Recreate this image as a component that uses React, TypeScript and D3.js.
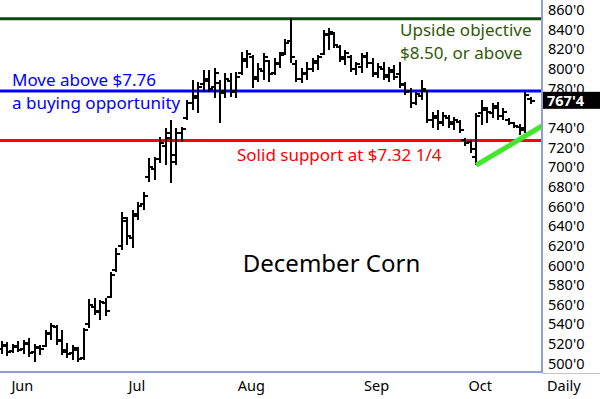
import * as d3 from 'd3';

// daily OHLC, late May .. mid Oct (cents/bu)
const opens = [
  515, 518, 513, 517, 515, 520, 512, 516, 518, 530,
  537, 524, 514, 511, 514, 506, 540, 558, 553, 562,
  568, 595, 620, 645, 628, 650, 662, 690, 698, 708,
  722, 730, 712, 735, 750, 765, 772, 785, 788, 782,
  786, 778, 788, 776, 796, 808, 812, 792, 798, 808,
  796, 806, 816, 828, 805, 790, 795, 800, 806, 815,
  835, 836, 822, 812, 812, 800, 802, 812, 806, 796,
  800, 794, 797, 795, 785, 778, 765, 772, 778, 748,
  750, 746, 750, 746, 746, 728, 726, 710, 755, 758,
  755, 760, 752, 748, 745, 741, 740, 769,
];
const highs = [
  523, 522, 520, 523, 524, 526, 520, 519, 534, 541,
  539, 534, 521, 519, 517, 536, 566, 567, 565, 567,
  593, 618, 654, 649, 656, 664, 675, 709, 710, 731,
  740, 748, 740, 741, 768, 789, 787, 799, 799, 801,
  789, 796, 796, 797, 817, 819, 814, 806, 816, 809,
  811, 817, 830, 852, 809, 801, 807, 811, 814, 840,
  842, 838, 824, 819, 814, 807, 816, 817, 811, 806,
  807, 802, 804, 807, 787, 781, 777, 789, 779, 756,
  758, 756, 753, 751, 748, 730, 728, 755, 768, 761,
  765, 766, 760, 750, 746, 744, 776, 771,
];
const lows = [
  510, 508, 511, 512, 510, 507, 502, 509, 517, 524,
  519, 509, 506, 504, 502, 504, 536, 549, 544, 548,
  567, 593, 616, 621, 618, 646, 656, 685, 687, 704,
  702, 684, 702, 726, 748, 758, 755, 777, 776, 770,
  745, 770, 771, 770, 794, 801, 781, 787, 789, 787,
  794, 801, 814, 806, 787, 786, 789, 797, 799, 814,
  819, 821, 807, 804, 797, 794, 796, 801, 792, 791,
  789, 787, 789, 781, 773, 760, 763, 768, 745, 740,
  738, 742, 740, 738, 735, 722, 714, 702, 743, 745,
  750, 748, 748, 743, 740, 733, 735, 764,
];
const closes = [
  519, 512, 518, 514, 521, 511, 517, 515, 531, 538,
  523, 512, 510, 516, 505, 534, 560, 552, 563, 553,
  590, 612, 648, 630, 652, 660, 671, 700, 708, 725,
  735, 705, 735, 739, 765, 770, 782, 790, 780, 796,
  775, 790, 778, 792, 810, 815, 790, 800, 812, 795,
  805, 814, 826, 812, 790, 796, 800, 808, 812, 836,
  838, 824, 810, 816, 800, 805, 813, 806, 795, 802,
  792, 799, 792, 784, 776, 765, 774, 780, 748, 752,
  745, 752, 744, 748, 738, 725, 718, 752, 760, 756,
  762, 752, 756, 745, 742, 738, 773, 767.5,
];

const months = ['Jun', 'Jul', 'Aug', 'Sep', 'Oct'];
const monthStarts = [3, 24, 45, 68, 87];
// 760'0 sits under the last-price box, so it is not shown
const priceTicks = [500, 520, 540, 560, 580, 600, 620, 640, 660, 680, 700, 720, 740, 780, 800, 820, 840, 860];

const lastPrice = 767.5;
const lastLabel = "767'4";

// drawn levels
const objectiveLevel = 851;
const buyLevel = 777.5;
const supportLevel = 727;
const trendStart = [87, 702];
const trendNext = [95, 728.4];

const font = '"Noto Sans", sans-serif';

const App = (): JSX.Element => {
  const width = 600;
  const height = 399;
  const plotRight = 542;
  const plotBottom = 372;

  const x = d3.scaleLinear([0, closes.length - 1], [2, 530.7]);
  const y = d3.scaleLinear([500, 860], [363.5, 10]);

  const bars = closes.map((c, i) => ({ i, o: opens[i], h: highs[i], l: lows[i], c }));

  // extend trend line to the right edge
  const slope = (trendNext[1] - trendStart[1]) / (trendNext[0] - trendStart[0]);
  const endIdx = x.invert(plotRight + 2);
  const trendLine = d3.line<number[]>()
    .x((d) => x(d[0]))
    .y((d) => y(d[1]))([
      trendStart,
      [endIdx, trendStart[1] + slope * (endIdx - trendStart[0])],
    ]);

  const axisColor = '#8e9fd5';

  return (
    <svg
      width={width}
      height={height}
      viewBox={`0 0 ${width} ${height}`}
      style={{ position: 'absolute', left: 0, top: 0, background: '#fff' }}
      fontFamily={font}
    >
      <defs>
        <clipPath id="plot">
          <rect x={0} y={0} width={plotRight} height={plotBottom} />
        </clipPath>
      </defs>

      <g clipPath="url(#plot)">
        <line x1={0} x2={plotRight} y1={y(objectiveLevel)} y2={y(objectiveLevel)} stroke="#0a4a12" strokeWidth={3} />
        <line x1={0} x2={plotRight} y1={y(buyLevel)} y2={y(buyLevel)} stroke="#0000ff" strokeWidth={3} />
        <line x1={0} x2={plotRight} y1={y(supportLevel)} y2={y(supportLevel)} stroke="#ff0000" strokeWidth={3} />

        <g fill="#000" shapeRendering="crispEdges">
          {bars.map((b) => {
            const cx = Math.round(x(b.i));
            const top = Math.round(y(b.h));
            const bot = Math.round(y(b.l));
            return (
              <g key={b.i}>
                <rect x={cx - 1} y={top} width={2} height={Math.max(2, bot - top)} />
                <rect x={cx - 4} y={Math.round(y(b.o)) - 1} width={3} height={2} />
                <rect x={cx + 1} y={Math.round(y(b.c)) - 1} width={3} height={2} />
              </g>
            );
          })}
        </g>

        <path d={trendLine ?? ''} stroke="#3fe82a" strokeWidth={5} fill="none" />
      </g>

      {/* annotations */}
      <text x={12} y={86} fontSize={17} fill="#0000ff">Move above $7.76</text>
      <text x={12} y={109} fontSize={17} fill="#0000ff">a buying opportunity</text>
      <text x={400} y={36} fontSize={17} fill="#2f5a06">Upside objective</text>
      <text x={400} y={59} fontSize={17} fill="#2f5a06">$8.50, or above</text>
      <text x={237} y={160.5} fontSize={17} fill="#ff0000">Solid support at $7.32 1/4</text>
      <text x={331.5} y={272} fontSize={24} fill="#000" textAnchor="middle">December Corn</text>

      {/* axes */}
      <line x1={plotRight} x2={width} y1={373} y2={373} stroke="#c4c4c4" strokeWidth={1} shapeRendering="crispEdges" />
      <rect x={0} y={plotBottom - 1} width={plotRight + 1} height={2} fill={axisColor} />
      <rect x={plotRight - 1} y={0} width={2} height={plotBottom + 1} fill={axisColor} />

      {priceTicks.map((p) => (
        <text key={p} x={548} y={y(p)} dy="0.36em" fontSize={14.5} fill="#000">
          {`${p}'0`}
        </text>
      ))}

      <rect x={543} y={y(lastPrice) - 9} width={57} height={17} fill="#000" />
      <text x={547} y={y(lastPrice)} dy="0.36em" fontSize={14.5} fontWeight="bold" fill="#fff">
        {lastLabel}
      </text>

      {months.map((m, k) => (
        <text key={m} x={x(monthStarts[k]) + 4} y={391} fontSize={14.5} textAnchor="middle" fill="#000">
          {m}
        </text>
      ))}
      <text x={547} y={391} fontSize={14.5} fill="#000">Daily</text>
    </svg>
  );
};

export default App;
